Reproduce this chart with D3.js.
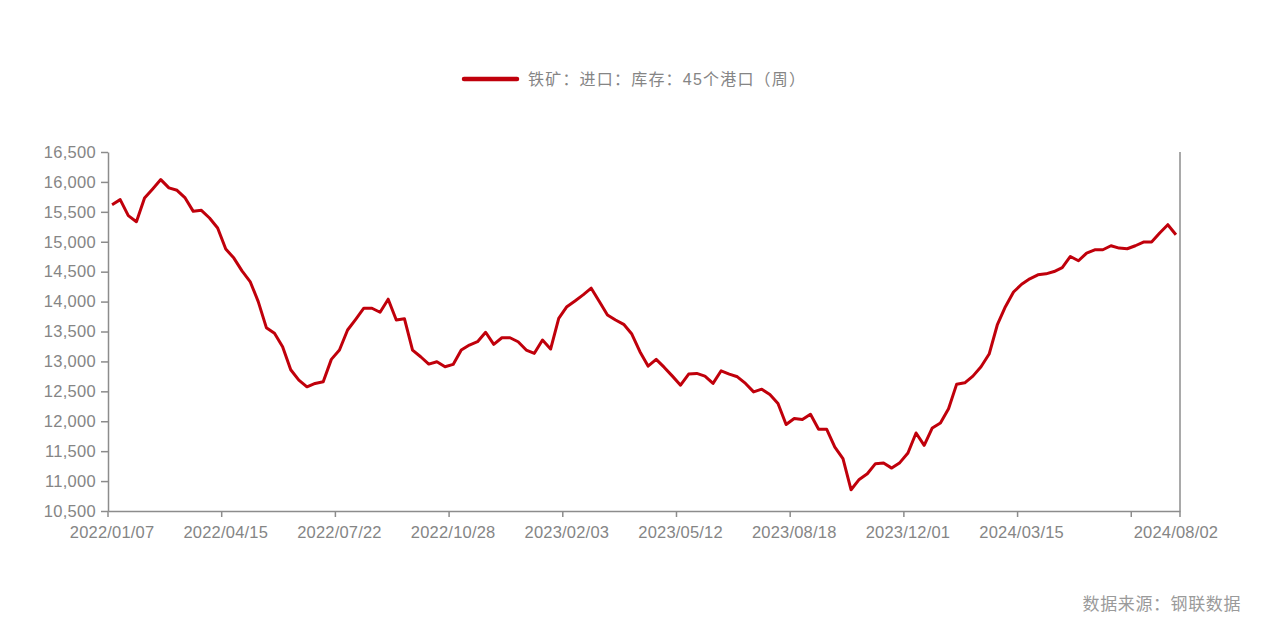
<!DOCTYPE html>
<html><head><meta charset="utf-8">
<script src="https://cdn.jsdelivr.net/npm/d3@7/dist/d3.min.js"></script>
<style>
html,body{margin:0;padding:0;background:#fff;}
svg{display:block;}
text{font-family:"Liberation Sans","Noto Sans CJK SC",sans-serif;}
</style></head>
<body>
<svg id="chart" width="1267" height="627"></svg>
<script>
const seriesName = "铁矿：进口：库存：45个港口（周）";
const sourceText = "数据来源：钢联数据";
const dates = [
"2022/01/07","2022/01/14","2022/01/21","2022/01/28","2022/02/04","2022/02/11","2022/02/18","2022/02/25","2022/03/04","2022/03/11",
"2022/03/18","2022/03/25","2022/04/01","2022/04/08","2022/04/15","2022/04/22","2022/04/29","2022/05/06","2022/05/13","2022/05/20",
"2022/05/27","2022/06/03","2022/06/10","2022/06/17","2022/06/24","2022/07/01","2022/07/08","2022/07/15","2022/07/22","2022/07/29",
"2022/08/05","2022/08/12","2022/08/19","2022/08/26","2022/09/02","2022/09/09","2022/09/16","2022/09/23","2022/09/30","2022/10/07",
"2022/10/14","2022/10/21","2022/10/28","2022/11/04","2022/11/11","2022/11/18","2022/11/25","2022/12/02","2022/12/09","2022/12/16",
"2022/12/23","2022/12/30","2023/01/06","2023/01/13","2023/01/20","2023/01/27","2023/02/03","2023/02/10","2023/02/17","2023/02/24",
"2023/03/03","2023/03/10","2023/03/17","2023/03/24","2023/03/31","2023/04/07","2023/04/14","2023/04/21","2023/04/28","2023/05/05",
"2023/05/12","2023/05/19","2023/05/26","2023/06/02","2023/06/09","2023/06/16","2023/06/23","2023/06/30","2023/07/07","2023/07/14",
"2023/07/21","2023/07/28","2023/08/04","2023/08/11","2023/08/18","2023/08/25","2023/09/01","2023/09/08","2023/09/15","2023/09/22",
"2023/09/29","2023/10/13","2023/10/20","2023/10/27","2023/11/03","2023/11/10","2023/11/17","2023/11/24","2023/12/01","2023/12/08",
"2023/12/15","2023/12/22","2023/12/29","2024/01/05","2024/01/12","2024/01/19","2024/01/26","2024/02/02","2024/02/09","2024/02/23",
"2024/03/01","2024/03/08","2024/03/15","2024/03/22","2024/03/29","2024/04/05","2024/04/12","2024/04/19","2024/04/26","2024/05/10",
"2024/05/17","2024/05/24","2024/05/31","2024/06/07","2024/06/14","2024/06/21","2024/06/28","2024/07/05","2024/07/12","2024/07/19",
"2024/07/26","2024/08/02"
];
const values = [
15620,15704,15436,15335,15732,15883,16039,15900,15860,15732,
15508,15525,15397,15230,14878,14727,14514,14335,14000,13564,
13470,13245,12860,12687,12575,12632,12659,13034,13190,13525,
13704,13889,13889,13822,14040,13693,13714,13190,13078,12955,
12994,12910,12950,13190,13274,13329,13487,13285,13396,13396,
13329,13190,13135,13357,13207,13721,13915,14011,14112,14224,
14000,13777,13693,13620,13458,13162,12922,13034,12900,12754,
12603,12788,12799,12754,12632,12843,12788,12743,12632,12491,
12536,12447,12297,11945,12045,12028,12117,11866,11866,11569,
11375,10855,11028,11123,11291,11301,11217,11308,11469,11804,
11598,11888,11972,12210,12620,12642,12754,12910,13123,13609,
13915,14160,14290,14380,14447,14464,14502,14569,14754,14682,
14811,14866,14866,14933,14894,14883,14933,14995,14995,15146,
15285,15117
];
const yTicks = [10500,11000,11500,12000,12500,13000,13500,14000,14500,15000,15500,16000,16500];
const xTickDates = ["2022/01/07","2022/04/15","2022/07/22","2022/10/28","2023/02/03","2023/05/12","2023/08/18","2023/12/01","2024/03/15","2024/06/28"];
const xLabelDates = ["2022/01/07","2022/04/15","2022/07/22","2022/10/28","2023/02/03","2023/05/12","2023/08/18","2023/12/01","2024/03/15","2024/08/02"];

const L = 108, R = 1180, T = 152, B = 511;
const lineColor = "#c0000b", axisColor = "#8c8c8c", textColor = "#858585";
const svg = d3.select("#chart");

const x = d3.scaleBand().domain(dates).range([L, R]).padding(0);
const y = d3.scaleLinear().domain([10500, 16500]).range([B, T]);
const fmt = d3.format(",");

// y axis
const yAxis = svg.append("g").attr("transform", `translate(${L},0)`)
  .call(d3.axisLeft(y).tickValues(yTicks).tickFormat(fmt).tickSize(7).tickPadding(5).tickSizeOuter(0));
yAxis.select(".domain").attr("stroke", axisColor).attr("stroke-width", 1.5);
yAxis.selectAll(".tick line").attr("stroke", axisColor).attr("stroke-width", 1.5);
yAxis.selectAll(".tick text").attr("fill", textColor).attr("font-size", 16.5).attr("letter-spacing", 0.3);

// right axis line
svg.append("line").attr("x1", R).attr("x2", R).attr("y1", T).attr("y2", B)
  .attr("stroke", axisColor).attr("stroke-width", 1.5);

// x axis labels (centered on bands)
const xAxis = svg.append("g").attr("transform", `translate(0,${B})`)
  .call(d3.axisBottom(x).tickValues(xLabelDates).tickSize(0).tickPadding(15).tickSizeOuter(0));
xAxis.select(".domain").attr("stroke", axisColor).attr("stroke-width", 1.5);
xAxis.selectAll(".tick text").attr("fill", textColor).attr("font-size", 16.5).attr("letter-spacing", 0.2);
// x tick marks at band boundaries
const tickPos = xTickDates.map(d => x(d)).concat([x.range()[1]]);
svg.append("g").selectAll("line").data(tickPos).join("line")
  .attr("x1", d => d).attr("x2", d => d).attr("y1", B).attr("y2", B + 6)
  .attr("stroke", axisColor).attr("stroke-width", 1.5);

// line
const line = d3.line().x((d, i) => x(dates[i]) + x.bandwidth() / 2).y(d => y(d));
svg.append("path").datum(values).attr("d", line)
  .attr("fill", "none").attr("stroke", lineColor).attr("stroke-width", 3)
  .attr("stroke-linejoin", "round");

// legend
const lg = svg.append("g");
lg.append("line").attr("x1", 464).attr("x2", 517).attr("y1", 79).attr("y2", 79)
  .attr("stroke", lineColor).attr("stroke-width", 4.5).attr("stroke-linecap", "round");
lg.append("text").attr("x", 528).attr("y", 79).attr("dy", "0.36em")
  .attr("fill", textColor).attr("font-size", 16).attr("letter-spacing", 1.2).text(seriesName);

// source
svg.append("text").attr("x", 1241).attr("y", 604).attr("dy", "0.36em").attr("text-anchor", "end")
  .attr("fill", "#9a9a9a").attr("font-size", 17).attr("letter-spacing", 0.6).text(sourceText);
</script>
</body></html>
